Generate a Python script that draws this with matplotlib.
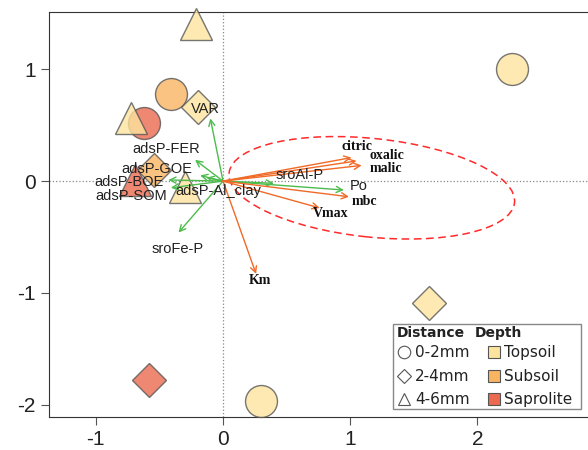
import numpy as np
import matplotlib
matplotlib.use("Agg")
import matplotlib.pyplot as plt
from matplotlib.patches import Ellipse, Rectangle

plt.rcParams["axes.unicode_minus"] = False

# sample scores
pt_x = [-0.21, 2.27, -0.41, -0.20, -0.72, -0.62, -0.54, -0.69, -0.30, 1.62, -0.58, 0.30]
pt_y = [1.40, 1.00, 0.78, 0.66, 0.56, 0.52, 0.10, 0.01, -0.05, -1.09, -1.78, -1.97]
pt_dist = ["4-6mm", "0-2mm", "0-2mm", "2-4mm", "4-6mm", "0-2mm", "2-4mm", "4-6mm", "4-6mm",
           "2-4mm", "2-4mm", "0-2mm"]
pt_depth = ["Topsoil", "Topsoil", "Subsoil", "Topsoil", "Topsoil", "Saprolite", "Subsoil",
            "Saprolite", "Topsoil", "Topsoil", "Saprolite", "Topsoil"]

# draw order so the overlaps look like the original
draw_order = [5, 4, 2, 3, 0, 1, 6, 7, 8, 9, 10, 11]

# green vectors (soil P properties)
green_names = ["VAR", "adsP-FER", "adsP-GOE", "adsP-BOE", "adsP-SOM", "adsP-Al_clay",
               "sroFe-P", "sroAl-P", "Po"]
green_x = [-0.10, -0.22, -0.18, -0.43, -0.41, -0.13, -0.35, 0.40, 0.95]
green_y = [0.56, 0.19, 0.05, 0.01, -0.06, 0.03, -0.46, -0.02, -0.08]
green_lx = [-0.14, -0.45, -0.52, -0.74, -0.72, -0.04, -0.36, 0.60, 1.07]
green_ly = [0.64, 0.29, 0.11, -0.01, -0.13, -0.09, -0.61, 0.05, -0.04]

# orange vectors (biological variables)
orange_names = ["citric", "oxalic", "malic", "mbc", "Vmax", "Km"]
orange_x = [1.01, 1.05, 1.09, 0.99, 0.76, 0.26]
orange_y = [0.21, 0.18, 0.14, -0.14, -0.24, -0.83]
orange_lx = [1.05, 1.29, 1.28, 1.11, 0.85, 0.29]
orange_ly = [0.31, 0.23, 0.115, -0.18, -0.29, -0.89]

depth_levels = ["Topsoil", "Subsoil", "Saprolite"]
depth_cols = {"Topsoil": "#fde49e", "Subsoil": "#f9b462", "Saprolite": "#ec6a4f"}
dist_levels = ["0-2mm", "2-4mm", "4-6mm"]
dist_mk = {"0-2mm": "o", "2-4mm": "D", "4-6mm": "^"}
dist_size = {"0-2mm": 23, "2-4mm": 17, "4-6mm": 23}

fig = plt.figure(figsize=(5.88, 4.5), dpi=100)
ax = fig.add_axes([0.083, 0.073, 0.917, 0.9])

ax.axhline(0, color="#888888", ls=":", lw=0.9, zorder=1)
ax.axvline(0, color="#888888", ls=":", lw=0.9, zorder=1)

for i in draw_order:
    ax.plot(pt_x[i], pt_y[i], marker=dist_mk[pt_dist[i]], ms=dist_size[pt_dist[i]],
            mfc=depth_cols[pt_depth[i]], mec="#555555", mew=1.0, alpha=0.8,
            ls="none", zorder=3, clip_on=False)

ell = Ellipse((1.17, -0.06), 2.26, 0.88, angle=-7, fill=False, ec="#ff2a2a",
              ls=(0, (5, 3)), lw=1.1, zorder=2)
ax.add_patch(ell)

for i in range(len(green_names)):
    ax.annotate("", xy=(green_x[i], green_y[i]), xytext=(0, 0),
                arrowprops=dict(arrowstyle="->", color="#4cbb4c", lw=1.0,
                                mutation_scale=11, shrinkA=0, shrinkB=0), zorder=4)
    ax.text(green_lx[i], green_ly[i], green_names[i], ha="center", va="center",
            fontsize=10.5, family="Liberation Sans", color="#222222", zorder=5)

for i in range(len(orange_names)):
    ax.annotate("", xy=(orange_x[i], orange_y[i]), xytext=(0, 0),
                arrowprops=dict(arrowstyle="->", color="#f06a28", lw=1.0,
                                mutation_scale=11, shrinkA=0, shrinkB=0), zorder=4)
    ax.text(orange_lx[i], orange_ly[i], orange_names[i], ha="center", va="center",
            fontsize=10, family="Liberation Serif", weight="bold", color="#111111", zorder=5)

ax.set_xlim(-1.37, 2.87)
ax.set_ylim(-2.11, 1.51)
ax.set_xticks([-1, 0, 1, 2])
ax.set_yticks([1, 0, -1, -2])
ax.set_xticklabels(["-1", "0", "1", "2"], family="Liberation Sans", fontsize=15)
ax.set_yticklabels(["1", "0", "-1", "-2"], family="Liberation Sans", fontsize=15)
ax.tick_params(length=6, color="#555555", labelcolor="#222222")
ax.spines["right"].set_visible(False)
for s in ["left", "bottom", "top"]:
    ax.spines[s].set_color("#333333")

# legend drawn by hand in axes coords
ax.add_patch(Rectangle((0.638, 0.020), 0.349, 0.210, transform=ax.transAxes,
                       fc="white", ec="#888888", lw=1.0, zorder=6))
ax.text(0.646, 0.207, "Distance", transform=ax.transAxes, fontsize=10, weight="bold",
        va="center", ha="left", color="#222222", zorder=7)
ax.text(0.790, 0.207, "Depth", transform=ax.transAxes, fontsize=10, weight="bold",
        va="center", ha="left", color="#222222", zorder=7)
row_y = [0.160, 0.101, 0.044]
for j in range(3):
    ax.plot(0.659, row_y[j], marker=dist_mk[dist_levels[j]], ms=9 if j != 1 else 7,
            mfc="white", mec="#555555", mew=0.8, transform=ax.transAxes, zorder=7)
    ax.text(0.679, row_y[j], dist_levels[j], transform=ax.transAxes, fontsize=11,
            va="center", ha="left", color="#222222", zorder=7)
    ax.plot(0.826, row_y[j], marker="s", ms=9, mfc=depth_cols[depth_levels[j]],
            mec="#555555", mew=0.8, transform=ax.transAxes, zorder=7)
    ax.text(0.845, row_y[j], depth_levels[j], transform=ax.transAxes, fontsize=11,
            va="center", ha="left", color="#222222", zorder=7)

fig.savefig("out.png", dpi=100)
